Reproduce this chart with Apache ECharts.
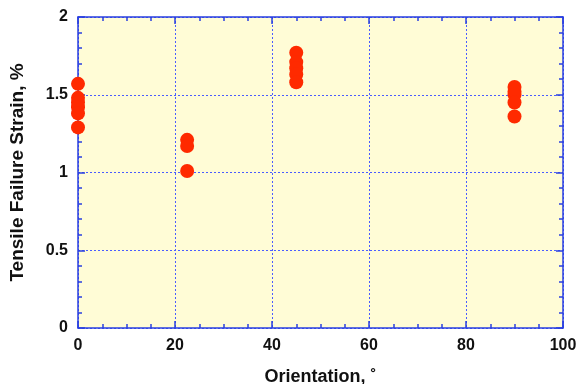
<!DOCTYPE html>
<html><head><meta charset="utf-8">
<script src="https://cdn.jsdelivr.net/npm/echarts@6/dist/echarts.min.js"></script>
<style>html,body{margin:0;padding:0;background:#fff}#c{width:579px;height:384px}</style>
</head><body><div id="c"></div>
<script>
const orientation0 = [0, 0, 0, 0, 0, 0];
const strain0 = [1.57, 1.48, 1.45, 1.42, 1.38, 1.29];
const orientation22 = [22.5, 22.5, 22.5];
const strain22 = [1.21, 1.17, 1.01];
const orientation45 = [45, 45, 45, 45, 45];
const strain45 = [1.77, 1.71, 1.67, 1.63, 1.58];
const orientation90 = [90, 90, 90, 90, 90];
const strain90 = [1.55, 1.52, 1.50, 1.45, 1.36];
const xTicks = [0, 20, 40, 60, 80, 100];
const yTicks = [0, 0.5, 1, 1.5, 2];

const pts = [];
[[orientation0, strain0], [orientation22, strain22], [orientation45, strain45], [orientation90, strain90]]
  .forEach(([xs, ys]) => xs.forEach((x, i) => pts.push([x, ys[i]])));

const axisBlue = '#2a3fe0';
const gridBlue = '#4a5cff';
const fam = 'Liberation Sans, Arial, sans-serif';
const labelFont = {fontFamily: fam, fontWeight: 'bold', fontSize: 16, color: '#111'};
const chart = echarts.init(document.getElementById('c'), null, {renderer: 'canvas'});
const baseX = {
  type: 'value', min: xTicks[0], max: xTicks[xTicks.length - 1], interval: 20,
  axisLine: {show: true, onZero: false, lineStyle: {color: axisBlue, width: 1.5}},
  axisTick: {show: true, inside: true, length: 7, lineStyle: {color: axisBlue, width: 1.5}},
  minorTick: {show: true, splitNumber: 4, length: 4, lineStyle: {color: axisBlue, width: 1.5}},
};
const baseY = {
  type: 'value', min: yTicks[0], max: yTicks[yTicks.length - 1], interval: 0.5,
  axisLine: {show: true, onZero: false, lineStyle: {color: axisBlue, width: 1.5}},
  axisTick: {show: true, inside: true, length: 7, lineStyle: {color: axisBlue, width: 1.5}},
  minorTick: {show: true, splitNumber: 5, length: 4, lineStyle: {color: axisBlue, width: 1.5}},
};
chart.setOption({
  animation: false,
  grid: {left: 78, right: 16, top: 17, bottom: 56, show: true, backgroundColor: '#fffcd6', borderWidth: 0,
         containLabel: false, outerBoundsMode: 'none'},
  xAxis: [
    Object.assign({}, baseX, {
      position: 'bottom', name: 'Orientation, \u02da', nameLocation: 'middle', nameGap: 40,
      nameTextStyle: {fontFamily: fam, fontWeight: 'bold', fontSize: 18, color: '#111'},
      axisLabel: Object.assign({margin: 10, formatter: v => String(v)}, labelFont),
      splitLine: {show: true, lineStyle: {color: gridBlue, type: [2, 2], width: 1}}
    }),
    Object.assign({}, baseX, {position: 'top', axisLabel: {show: false}, splitLine: {show: false}})
  ],
  yAxis: [
    Object.assign({}, baseY, {
      position: 'left', name: 'Tensile Failure Strain, %', nameLocation: 'middle', nameGap: 51,
      nameTextStyle: {fontFamily: fam, fontWeight: 'bold', fontSize: 19, color: '#111'},
      axisLabel: Object.assign({margin: 10, formatter: v => String(v)}, labelFont),
      splitLine: {show: true, lineStyle: {color: gridBlue, type: [2, 2], width: 1}}
    }),
    Object.assign({}, baseY, {position: 'right', axisLabel: {show: false}, splitLine: {show: false}})
  ],
  series: [{
    type: 'scatter', data: pts, symbol: 'circle', symbolSize: 14,
    itemStyle: {color: '#ff2a00', opacity: 1}, z: 10
  }]
});
</script></body></html>
